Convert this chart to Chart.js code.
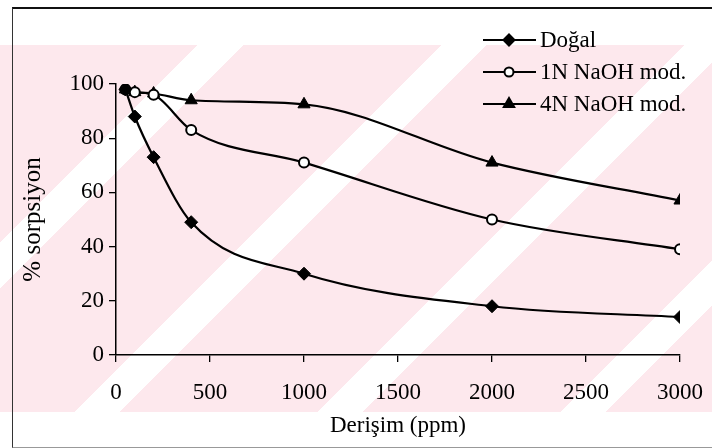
<!DOCTYPE html>
<html>
<head>
<meta charset="utf-8">
<script src="https://cdn.jsdelivr.net/npm/chart.js@4.4.1/dist/chart.umd.min.js"></script>
<style>
  html, body { margin: 0; padding: 0; background: #ffffff; }
  #wrap { position: relative; width: 712px; height: 448px; overflow: hidden; }
  #bg { position: absolute; left: 0; top: 45px; width: 712px; height: 367px;
        background: repeating-linear-gradient(135deg, #fde8ed 0px, #fde8ed 140px, #ffffff 140px, #ffffff 172px); }
  #frame { position: absolute; left: 12px; top: 7px; width: 720px; height: 438px;
           border-left: 1.5px solid #333; border-top: 2px solid #111; border-bottom: 1px solid #999; }
  canvas { position: absolute; left: 0; top: 0; }
</style>
</head>
<body>
<div id="wrap">
  <div id="bg"></div>
  <div id="frame"></div>
  <canvas id="c" width="712" height="448"></canvas>
</div>
<script>
// ---- data ----
const concentrations = [50, 100, 200, 400, 1000, 2000, 3000];      // Derişim (ppm)
const dogal   = [98, 88, 73, 49, 30, 18, 14];                       // Doğal
const naoh1N  = [98, 97, 96, 83, 71, 50, 39];                       // 1N NaOH mod.
const naoh4N  = [98, 97, 96.5, 94, 92.5, 71, 57];                   // 4N NaOH mod.
const seriesNames = ['Doğal', '1N NaOH mod.', '4N NaOH mod.'];
const xTicks = [0, 500, 1000, 1500, 2000, 2500, 3000];
const yTicks = [0, 20, 40, 60, 80, 100];
const xTitle = 'Derişim (ppm)';
const yTitle = '% sorpsiyon';

const toPts = arr => arr.map((v, i) => ({ x: concentrations[i], y: v }));
const FONT = "'Liberation Serif', 'Times New Roman', serif";

const legendPlugin = {
  id: 'lineLegend',
  afterDraw(chart) {
    const ctx = chart.ctx;
    const rows = [40, 72, 104];
    const x0 = 483, x1 = 536, xm = 509, xt = 540;
    chart.data.datasets.forEach((ds, i) => {
      const y = rows[i];
      ctx.save();
      ctx.strokeStyle = '#000';
      ctx.lineWidth = 2;
      ctx.beginPath();
      ctx.moveTo(x0, y); ctx.lineTo(x1, y);
      ctx.stroke();
      ctx.fillStyle = ds.pointBackgroundColor;
      ctx.strokeStyle = '#000';
      ctx.lineWidth = 2;
      Chart.helpers.drawPoint(ctx, {
        pointStyle: ds.pointStyle,
        radius: ds.legendRadius,
        borderWidth: 2,
        rotation: 0
      }, xm, y);
      ctx.fillStyle = '#000';
      ctx.font = "23px " + FONT;
      ctx.textBaseline = 'middle';
      ctx.textAlign = 'left';
      ctx.fillText(ds.label, xt, y + 1);
      ctx.restore();
    });
  }
};

new Chart(document.getElementById('c'), {
  type: 'line',
  data: {
    datasets: [
      { label: seriesNames[0], data: toPts(dogal), pointStyle: 'rectRot', pointRadius: 6.5,
        legendRadius: 5.5, pointBackgroundColor: '#000', pointBorderColor: '#000', borderColor: '#000',
        borderWidth: 2.2, pointBorderWidth: 1 },
      { label: seriesNames[1], data: toPts(naoh1N), pointStyle: 'circle', pointRadius: 5,
        legendRadius: 4.5, pointBackgroundColor: '#fff', pointBorderColor: '#000', borderColor: '#000',
        borderWidth: 2.2, pointBorderWidth: 2 },
      { label: seriesNames[2], data: toPts(naoh4N), pointStyle: 'triangle', pointRadius: 7,
        legendRadius: 6, pointBackgroundColor: '#000', pointBorderColor: '#000', borderColor: '#000',
        borderWidth: 2.2, pointBorderWidth: 1 }
    ]
  },
  options: {
    responsive: false,
    animation: false,
    devicePixelRatio: 1,
    layout: { padding: { top: 84, right: 32, left: 0, bottom: 0 } },
    plugins: { legend: { display: false }, tooltip: { enabled: false } },
    elements: { line: { cubicInterpolationMode: 'monotone', fill: false } },
    scales: {
      x: {
        type: 'linear', min: 0, max: 3000,
        afterFit: s => { s.height = 93; s.paddingLeft = 0; s.paddingRight = 0; },
        afterBuildTicks: s => { s.ticks = xTicks.map(v => ({ value: v })); },
        border: { display: true, color: '#000', width: 1.5 },
        grid: { display: true, drawOnChartArea: false, drawTicks: true, tickLength: 7, color: '#000', lineWidth: 1.3 },
        ticks: { color: '#000', padding: 17, maxRotation: 0, autoSkip: false,
                 callback: v => String(v), font: { family: FONT, size: 23 } },
        title: { display: true, text: xTitle, color: '#000', padding: { top: 0, bottom: 8 }, font: { family: FONT, size: 23 } }
      },
      y: {
        type: 'linear', min: 0, max: 100,
        afterFit: s => { s.width = 116; s.paddingTop = 0; s.paddingBottom = 0; },
        afterBuildTicks: s => { s.ticks = yTicks.map(v => ({ value: v })); },
        border: { display: true, color: '#000', width: 1.5 },
        grid: { display: true, drawOnChartArea: false, drawTicks: true, tickLength: 7, color: '#000', lineWidth: 1.3 },
        ticks: { color: '#000', padding: 5, callback: v => String(v), font: { family: FONT, size: 23 } },
        title: { display: true, text: yTitle, color: '#000', padding: { top: 18, bottom: 0 }, font: { family: FONT, size: 25 } }
      }
    }
  },
  plugins: [legendPlugin]
});
</script>
</body>
</html>
